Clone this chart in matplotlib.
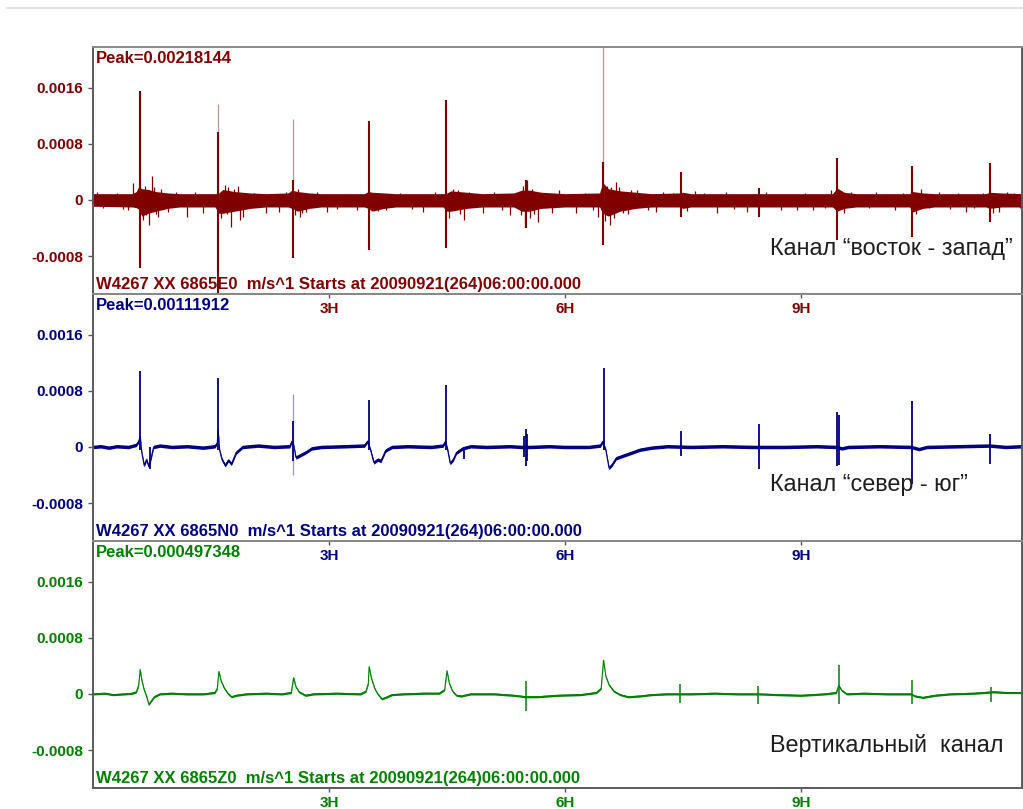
import matplotlib
matplotlib.use("Agg")
import matplotlib.pyplot as plt
from matplotlib.lines import Line2D

plt.rcParams['font.family'] = ['Liberation Sans', 'DejaVu Sans']

# amplitudes are in units of 1e-4 m/s, time in hours after 06:00:00
Y_TICKS = [-8, 0, 8, 16]
Y_TICK_LABELS = ['-0.0008', '0', '0.0008', '0.0016']
X_TICKS = [3, 6, 9]
X_TICK_LABELS = ['3H', '6H', '9H']
T_MAX = 11.81
Y_MIN, Y_MAX = -13.4, 21.8

# ---- channel E (east-west): noise band envelope ----
e_env_t = [0.00, 0.50, 0.55, 0.58, 0.62, 0.70, 0.80, 0.95, 1.10, 1.55, 1.60, 1.65, 1.80,
           2.00, 2.20, 2.48, 2.53, 2.60, 2.75, 2.90, 3.45, 3.50, 3.55, 3.70, 3.85, 4.45,
           4.50, 4.55, 4.75, 4.95, 5.35, 5.45, 5.55, 5.70, 6.00, 6.44, 6.48, 6.55, 6.70,
           6.90, 7.10, 7.45, 7.50, 7.60, 9.40, 9.46, 9.55, 9.70, 10.38, 10.42, 10.55,
           10.70, 11.35, 11.40, 11.55, 11.81]
e_env_hi = [0.9, 0.9, 1.2, 1.9, 1.6, 1.5, 1.2, 1.0, 0.9, 0.9, 1.0, 1.5, 1.2,
            1.0, 0.9, 1.0, 1.4, 1.2, 1.0, 0.9, 0.9, 1.2, 1.1, 1.0, 0.9, 0.9,
            1.0, 1.3, 1.1, 0.9, 1.0, 1.4, 1.4, 1.1, 0.9, 1.0, 2.5, 1.6, 1.3,
            1.1, 0.9, 1.0, 1.1, 0.9, 0.9, 1.7, 1.1, 0.9, 0.9, 1.2, 1.0,
            0.9, 0.9, 1.1, 1.0, 0.9]
e_env_lo = [-0.9, -1.0, -1.1, -1.3, -2.3, -1.9, -1.6, -1.2, -1.0, -1.0, -1.9, -1.9, -1.6,
            -1.2, -1.0, -1.0, -1.2, -1.6, -1.2, -1.0, -1.0, -1.2, -1.6, -1.2, -1.0, -1.0,
            -1.6, -1.6, -1.2, -1.0, -1.0, -1.6, -1.6, -1.2, -1.0, -1.0, -1.9, -2.3, -1.6,
            -1.2, -1.0, -1.0, -1.2, -1.0, -1.0, -1.6, -1.2, -1.0, -1.0, -1.7, -1.2,
            -1.0, -1.0, -1.2, -1.0, -1.0]
# isolated noise excursions of channel E
e_out_t = [0.05, 0.13, 0.30, 0.38, 0.45, 0.51, 0.63, 0.66, 0.68, 0.71, 0.75, 0.77, 0.80,
           0.83, 0.87, 0.95, 1.05, 1.19, 1.30, 1.40, 1.63, 1.68, 1.70, 1.72, 1.76, 1.79,
           1.84, 1.87, 1.91, 2.05, 2.20, 2.37, 2.45, 2.57, 2.60, 2.63, 2.66, 2.71, 2.85,
           2.97, 3.10, 3.22, 3.35, 3.62, 3.73, 3.90, 4.05, 4.19, 4.35, 4.53, 4.58, 4.64,
           4.67, 4.72, 4.78, 4.96, 5.10, 5.20, 5.30, 5.42, 5.44, 5.47, 5.49, 5.52, 5.55,
           5.58, 5.61, 5.66, 5.83, 5.93, 6.14, 6.25, 6.35, 6.42, 6.51, 6.53, 6.57, 6.59,
           6.62, 6.65, 6.69, 6.74, 6.80, 6.84, 6.91, 7.05, 7.16, 7.25, 7.37, 7.55, 7.65,
           7.77, 7.93, 8.05, 8.15, 8.32, 8.55, 8.75, 8.95, 9.05, 9.15, 9.30, 9.38, 9.55,
           9.63, 9.87, 9.95, 10.08, 10.20, 10.30, 10.46, 10.53, 10.63, 10.75, 10.90, 11.00,
           11.10, 11.20, 11.31, 11.44, 11.52, 11.62, 11.71, 11.78]
e_out_v = [1.1, -1.2, 1.0, -1.3, -1.5, 2.4, -2.8, 2.0, -2.2, -3.6, 3.4, 1.8, -2.0,
           -2.4, 1.5, -1.7, 1.2, -2.4, 1.1, -1.9, -2.5, 2.2, -2.0, 1.9, -3.8, 1.6,
           2.0, -2.8, -2.4, 1.0, -1.9, -1.7, 1.2, -2.2, 1.5, -2.4, -1.8, -1.7, 1.1,
           -1.7, -1.3, 0.9, -1.5, -1.6, -1.5, 1.0, -1.3, -1.7, 1.1, -2.5, 1.6, 1.4,
           -2.0, -2.9, 1.2, -1.9, 1.2, -1.4, -2.2, 1.0, -2.2, 2.0, -3.8, 2.9, -2.5,
           1.5, -2.0, -3.1, -1.9, 1.4, -1.9, 1.0, -1.4, -2.4, -3.0, 2.0, -3.6, 1.9,
           -2.5, 2.6, 1.8, -1.9, -2.0, 1.4, 1.4, -1.5, -1.7, 1.1, 1.0, -1.6, 1.3,
           1.0, -1.9, 1.1, -1.3, -1.7, 1.2, -1.5, -1.4, 1.0, -1.5, -1.2, 1.4, -1.8,
           1.2, -1.2, 1.1, 0.9, -1.4, 1.0, -2.0, 1.6, -1.2, 1.1, -1.3, 1.0,
           -1.7, -1.2, 1.0, -1.8, -1.7, 1.1, 1.0, -1.2]
# main arrivals of channel E (solid part and faint thin tip)
e_spk_t = [0.60, 1.59, 2.54, 3.51, 4.49, 5.50, 6.48, 7.47, 8.47, 9.46, 10.41, 11.40]
e_spk_hi = [15.5, 9.7, 2.9, 11.3, 14.3, 2.9, 5.4, 4.0, 1.7, 6.0, 4.9, 5.3]
e_spk_lo = [-9.7, -14.5, -8.3, -7.1, -6.9, -4.0, -6.4, -2.4, -2.4, -5.7, -5.3, -3.1]
e_tip_t = [1.59, 2.54, 6.48]
e_tip_hi = [13.7, 11.6, 21.8]

# ---- channel N (north-south): slow trace ----
n_t = [0.00, 0.10, 0.20, 0.30, 0.45, 0.55, 0.58, 0.60, 0.62, 0.65, 0.68, 0.71, 0.74, 0.77,
       0.85, 1.00, 1.20, 1.40, 1.55, 1.58, 1.59, 1.61, 1.64, 1.68, 1.72, 1.76, 1.82, 1.90,
       2.10, 2.30, 2.50, 2.53, 2.55, 2.58, 2.63, 2.70, 2.78, 2.90, 3.20, 3.45, 3.49, 3.53,
       3.57, 3.62, 3.66, 3.72, 3.80, 4.00, 4.30, 4.45, 4.48, 4.51, 4.54, 4.58, 4.62, 4.70,
       4.80, 5.00, 5.30, 5.45, 5.55, 5.80, 6.00, 6.30, 6.45, 6.48, 6.52, 6.56, 6.60, 6.65,
       6.75, 6.85, 6.95, 7.10, 7.30, 7.60, 8.00, 8.40, 8.80, 9.20, 9.45, 9.52, 9.60, 10.00,
       10.40, 10.50, 10.60, 11.00, 11.40, 11.60, 11.81]
n_v = [0.0, 0.1, -0.1, 0.1, 0.0, 0.3, 0.8, 1.5, -0.8, -2.6, -1.8, -2.8, -1.5, 0.0,
       0.2, 0.0, 0.1, -0.1, 0.1, 0.6, 2.5, -0.5, -1.8, -2.6, -1.9, -2.4, -0.8, 0.0,
       0.2, 0.0, 0.1, 0.8, 0.3, -1.5, -1.2, -0.8, -0.2, 0.0, 0.1, 0.2, 0.8, -0.5,
       -2.2, -1.8, -2.0, -0.5, 0.0, 0.1, 0.0, 0.2, 0.8, -0.5, -2.3, -1.8, -0.8, -0.2,
       0.1, 0.0, 0.1, 0.0, 0.0, 0.1, 0.0, 0.0, 0.2, 0.8, -0.5, -3.0, -2.5, -1.6,
       -1.2, -0.8, -0.4, -0.1, 0.1, 0.0, 0.1, 0.0, 0.0, 0.1, 0.0, -0.2, 0.0, 0.1,
       0.0, -0.3, 0.0, 0.1, 0.2, 0.0, 0.1]
n_noise = 0.25
n_spk_t = [0.60, 0.72, 1.59, 2.54, 3.51, 4.49, 4.72, 5.48, 5.50, 5.52, 6.50, 7.47, 8.47,
           9.46, 9.48, 10.41, 11.40]
n_spk_hi = [10.8, 0.0, 9.9, 3.7, 6.7, 8.9, 0.0, 1.5, 2.6, 1.8, 11.3, 2.3, 3.3,
            5.0, 4.5, 6.6, 1.9]
n_spk_lo = [-0.5, -3.2, -0.5, -2.0, -0.5, -0.5, -1.7, -1.5, -2.7, -2.0, -0.5, -1.3, -3.1,
            -2.7, -2.5, -5.3, -2.4]
n_tip_t = [2.54]
n_tip_hi = [7.5]
n_tip_lo = [-4.0]

# ---- channel Z (vertical): slow trace ----
z_t = [0.00, 0.15, 0.25, 0.40, 0.50, 0.55, 0.58, 0.60, 0.62, 0.65, 0.68, 0.71, 0.74, 0.78,
       0.85, 1.00, 1.20, 1.40, 1.55, 1.58, 1.60, 1.63, 1.67, 1.72, 1.76, 1.82, 1.95, 2.20,
       2.40, 2.52, 2.55, 2.58, 2.62, 2.70, 2.80, 3.10, 3.40, 3.47, 3.50, 3.51, 3.54, 3.58,
       3.62, 3.67, 3.72, 3.80, 3.95, 4.20, 4.40, 4.47, 4.50, 4.53, 4.57, 4.62, 4.68, 4.80,
       5.10, 5.35, 5.50, 5.65, 5.90, 6.20, 6.40, 6.46, 6.49, 6.52, 6.56, 6.62, 6.70, 6.80,
       6.95, 7.10, 7.30, 7.60, 7.90, 8.20, 8.46, 8.70, 9.00, 9.30, 9.45, 9.48, 9.52, 9.58,
       9.80, 10.10, 10.40, 10.45, 10.55, 10.70, 10.90, 11.20, 11.45, 11.60, 11.81]
z_v = [0.0, 0.1, -0.1, 0.0, 0.1, 0.3, 1.2, 3.5, 2.0, 0.6, -0.3, -1.5, -1.0, -0.4,
       0.0, 0.1, 0.0, 0.0, 0.2, 0.8, 3.2, 1.8, 0.8, 0.0, -0.4, -0.2, 0.0, 0.1,
       0.0, 0.2, 2.3, 1.0, 0.3, -0.2, 0.0, 0.1, 0.0, 0.4, 1.5, 3.9, 2.2, 0.8,
       0.0, -0.7, -0.5, -0.1, 0.0, 0.1, 0.1, 0.6, 3.3, 1.5, 0.4, -0.2, -0.3, 0.0,
       0.0, -0.2, -0.4, -0.4, -0.2, -0.1, 0.2, 0.8, 4.8, 2.5, 1.3, 0.4, -0.1, -0.4,
       -0.3, -0.1, 0.0, 0.0, 0.1, 0.0, 0.0, -0.1, -0.2, 0.0, 0.2, 1.2, 0.5, 0.0,
       0.1, 0.0, 0.0, -0.3, -0.5, -0.2, 0.0, 0.1, 0.3, 0.2, 0.2]
z_noise = 0.15
z_spk_t = [5.50, 7.46, 8.46, 9.48, 10.41, 11.41]
z_spk_hi = [1.8, 1.4, 1.1, 4.1, 2.0, 1.0]
z_spk_lo = [-2.4, -1.3, -1.4, -1.4, -1.4, -1.2]

colors = ['#800000', '#000080', '#008000']
peaks = ['Peak=0.00218144', 'Peak=0.00111912', 'Peak=0.000497348']
names = ['W4267 XX 6865E0  m/s^1 Starts at 20090921(264)06:00:00.000',
         'W4267 XX 6865N0  m/s^1 Starts at 20090921(264)06:00:00.000',
         'W4267 XX 6865Z0  m/s^1 Starts at 20090921(264)06:00:00.000']
captions = ['Канал “восток - запад”', 'Канал “север - юг”', 'Вертикальный  канал']
caption_y = [0.186, 0.227, 0.174]

fig = plt.figure(figsize=(10.23, 8.09), dpi=100)
fig.add_artist(Line2D([0.007, 1.0], [1 - 8 / 809] * 2, color='#e4e4e4', lw=1.5))

left, width = 93 / 1023, 929 / 1023
tops = [47, 294, 541]
h = 247
axes = []
for top in tops:
    ax = fig.add_axes([left, 1 - (top + h) / 809, width, h / 809])
    ax.set_facecolor('none')
    axes.append(ax)

# channel E
ax = axes[0]
c = colors[0]
ax.fill_between(e_env_t, e_env_lo, e_env_hi, color=c, lw=0)
ax.vlines(e_out_t, 0, e_out_v, color=c, lw=0.9)
ax.vlines(e_tip_t, 0, e_tip_hi, color='#b89898', lw=0.9)
ax.vlines(e_spk_t, e_spk_lo, e_spk_hi, color=c, lw=1.5)

# channel N
ax = axes[1]
c = colors[1]
ax.fill_between(n_t, [v - n_noise for v in n_v], [v + n_noise for v in n_v], color=c, lw=0)
ax.plot(n_t, n_v, color=c, lw=0.8)
ax.vlines(n_tip_t, n_tip_lo, n_tip_hi, color='#9a9ab8', lw=0.9)
ax.vlines(n_spk_t, n_spk_lo, n_spk_hi, color=c, lw=1.3)

# channel Z
ax = axes[2]
c = colors[2]
ax.fill_between(z_t, [v - z_noise for v in z_v], [v + z_noise for v in z_v], color=c, lw=0)
ax.plot(z_t, z_v, color=c, lw=0.8)
ax.vlines(z_spk_t, z_spk_lo, z_spk_hi, color=c, lw=1.1)

for i, ax in enumerate(axes):
    c = colors[i]
    ax.set_xlim(0, T_MAX)
    ax.set_ylim(Y_MIN, Y_MAX)
    ax.set_yticks(Y_TICKS)
    ax.set_yticklabels(Y_TICK_LABELS, fontweight='bold', color=c, fontsize=11)
    ax.set_xticks(X_TICKS)
    ax.set_xticklabels(X_TICK_LABELS, fontweight='bold', color=c, fontsize=11)
    ax.tick_params(axis='y', direction='out', length=3.6, width=1, color='#555555', pad=3.6)
    ax.tick_params(axis='x', direction='out', length=3, width=1, color='#555555', pad=3)
    for s in ax.spines.values():
        s.set_color('#5a5a5a')
        s.set_linewidth(1.4)
    ax.spines['top'].set_color('#8a8a8a')
    ax.text(0.003, 0.985, peaks[i], transform=ax.transAxes, ha='left', va='top',
            fontsize=12, fontweight='bold', color=c)
    ax.text(0.003, 0.022, names[i], transform=ax.transAxes, ha='left', va='baseline',
            fontsize=12, fontweight='bold', color=c)
    ax.text(0.7287, caption_y[i], captions[i], transform=ax.transAxes, ha='left',
            va='center', fontsize=16.8, color='#1e1e1e')

fig.savefig('out.png', dpi=100)
